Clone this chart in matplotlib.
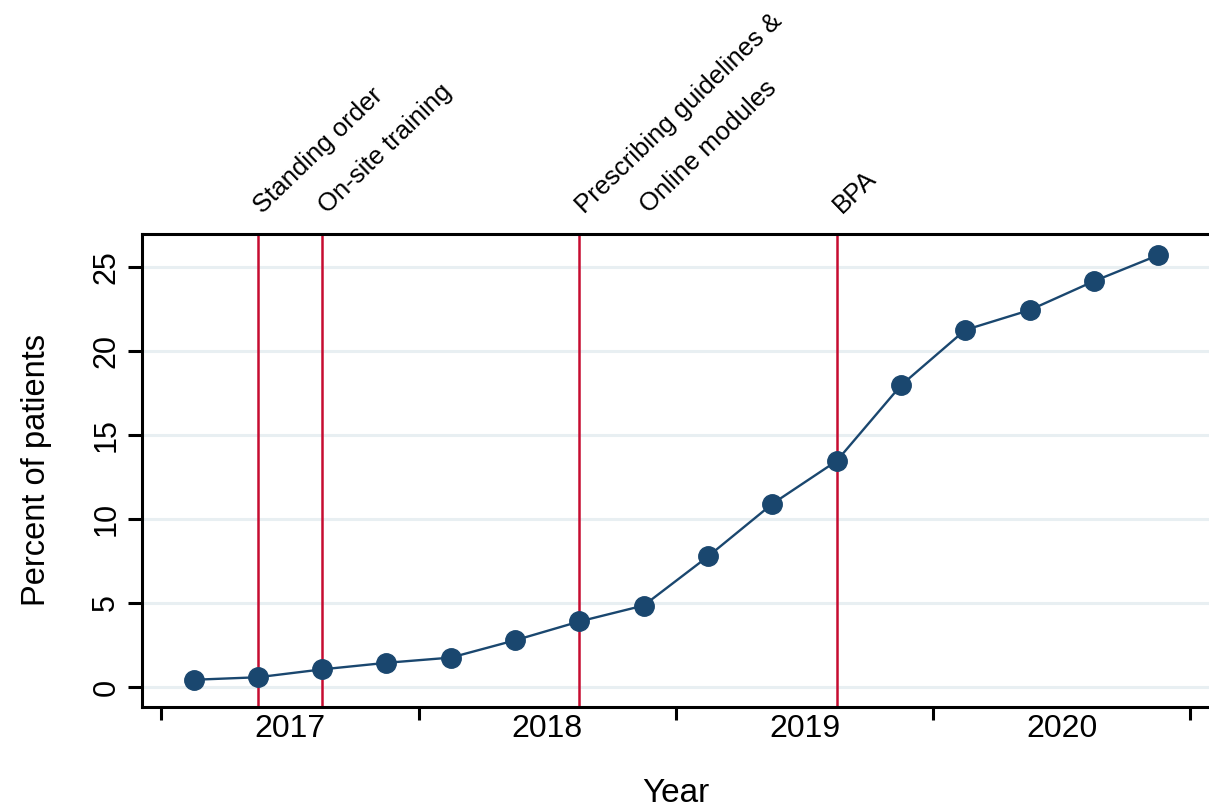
import matplotlib
matplotlib.use("Agg")
import matplotlib.pyplot as plt

plt.rcParams['font.family'] = ['Liberation Sans', 'DejaVu Sans']

# Quarterly series, Q1 2017 .. Q4 2020 (quarter index 0..15)
quarter_index = list(range(16))
percent_patients = [0.43, 0.58, 1.05, 1.44, 1.75, 2.78, 3.90, 4.85,
                    7.77, 10.90, 13.45, 17.95, 21.25, 22.43, 24.15, 25.70]
years = ["2017", "2018", "2019", "2020"]
y_ticks = [0, 5, 10, 15, 20, 25]

# Interventions: vertical reference lines and their labels
event_line_quarters = [1, 2, 6, 10]
event_labels = ["Standing order", "On-site training",
                "Prescribing guidelines &", "Online modules", "BPA"]
event_label_quarters = [1, 2, 6, 7, 10]

NAVY = "#1a476f"
CRANBERRY = "#c60c30"
GRID = "#e8eff2"

W, H = 1209, 808
fig = plt.figure(figsize=(W / 100, H / 100), dpi=100)
ax = fig.add_axes([142 / W, 101 / H, 1067 / W, 473 / H])

ax.set_xlim(-0.801, 15.79)
ax.set_ylim(-1.19, 26.96)

# gridlines
ax.set_axisbelow(True)
ax.set_yticks(y_ticks)
ax.yaxis.grid(True, color=GRID, lw=2.2)
ax.xaxis.grid(False)

# intervention lines
for q in event_line_quarters:
    ax.axvline(q, color=CRANBERRY, lw=1.8, zorder=2)

# series
ax.plot(quarter_index, percent_patients, color=NAVY, lw=1.7,
        marker="o", ms=14, mec=NAVY, mfc=NAVY, zorder=3)

# intervention labels above the plot region
for q, lab in zip(event_label_quarters, event_labels):
    ax.annotate(lab, xy=(q, 1), xycoords=("data", "axes fraction"),
                xytext=(5, 20), textcoords="offset pixels",
                rotation=44, rotation_mode="anchor",
                ha="left", va="baseline", fontsize=18.5,
                annotation_clip=False)

# spines
for side in ("left", "bottom", "top"):
    ax.spines[side].set_linewidth(2.2)
    ax.spines[side].set_color("black")
ax.spines["right"].set_visible(False)

# y axis
ax.set_yticklabels([str(v) for v in y_ticks], rotation=90, va="center")
ax.tick_params(axis="y", length=9.9, width=2.2, pad=5, labelsize=22)

# x axis: year boundaries as ticks, year names centred between them
ax.set_xticks([-0.5, 3.5, 7.5, 11.5, 15.5])
ax.set_xticklabels([])
ax.set_xticks([1.5, 5.5, 9.5, 13.5], minor=True)
ax.set_xticklabels(years, minor=True)
ax.tick_params(axis="x", which="major", length=9.4, width=2.2)
ax.tick_params(axis="x", which="minor", length=0, pad=5, labelsize=23)

ax.set_ylabel("Percent of patients", fontsize=23.5)
ax.yaxis.set_label_coords((52 - 142) / 1067, 0.5)
ax.set_xlabel("Year", fontsize=24)
ax.xaxis.set_label_coords(0.5, (707 - 778) / 473)

fig.savefig("out.png", dpi=100)
